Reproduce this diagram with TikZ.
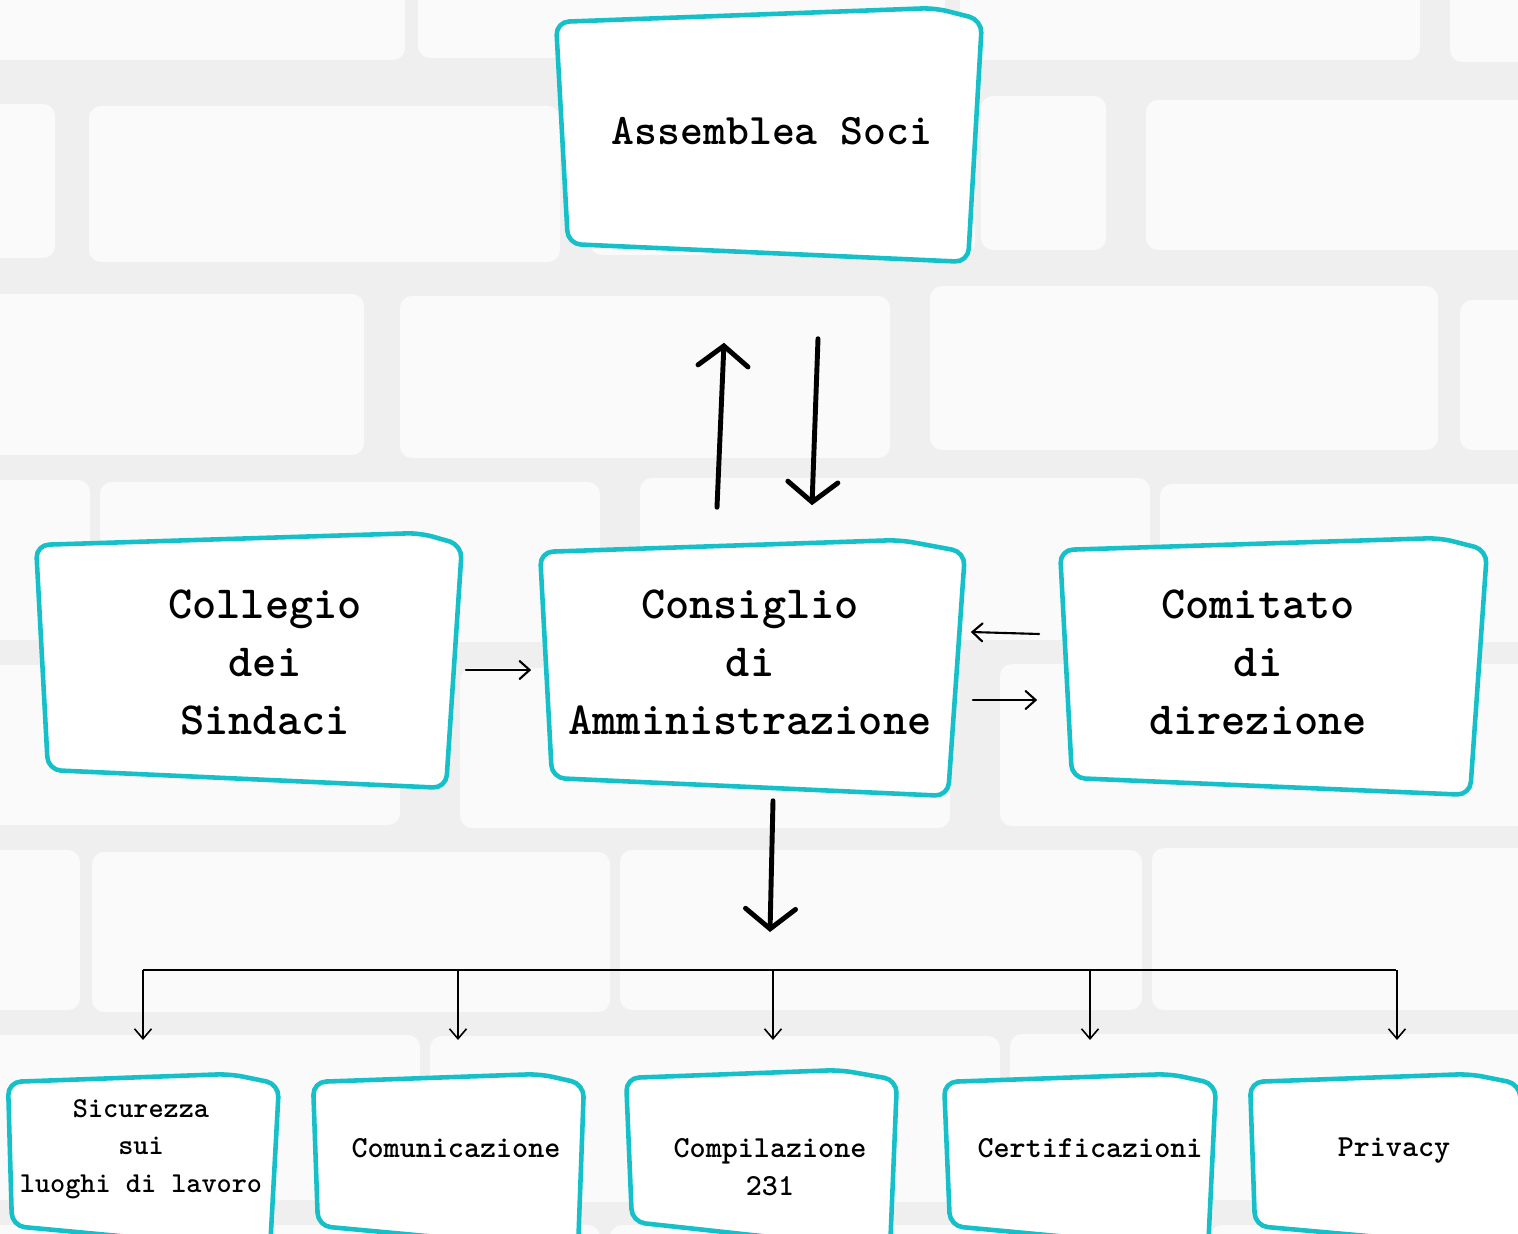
\documentclass[tikz,border=0pt]{standalone}
\usetikzlibrary{arrows.meta,calc}
\definecolor{tealline}{RGB}{22,192,200}
\definecolor{mortar}{RGB}{239,239,239}
\definecolor{brickc}{RGB}{250,250,250}
\tikzset{
  boxline/.style={draw=tealline, line width=1.3pt, fill=white, rounded corners=0.13cm, line join=round},
  bigtxt/.style={inner sep=0pt, align=center, font=\ttfamily\bfseries\fontsize{13.1}{16.5}\selectfont},
  toptxt/.style={inner sep=0pt, align=center, font=\ttfamily\bfseries\fontsize{12.4}{15}\selectfont},
  smalltxt/.style={inner sep=0pt, align=center, font=\ttfamily\bfseries\fontsize{8.7}{10.7}\selectfont},
  bigarrow/.style={line width=1.4pt, line cap=round, -{Straight Barb[length=0.2cm, width=0.5cm, line cap=round]}},
  thinarrow/.style={line width=0.6pt, line cap=round, -{Straight Barb[length=0.1cm, width=0.18cm, line cap=round]}},
  droparrow/.style={line width=0.45pt, -{Straight Barb[length=0.1cm, width=0.17cm]}},
  busline/.style={line width=0.85pt},
}
\begin{document}
\begin{tikzpicture}[x=0.01cm, y=-0.01cm]
\useasboundingbox (0,0) rectangle (1518,1234);
\clip (0,0) rectangle (1518,1234);
% background wall
\fill[mortar] (0,0) rectangle (1518,1234);
\foreach \xa/\ya/\xb/\yb in {
  -20/-20/405/60, 418/-20/945/58, 960/-20/1420/60, 1450/-20/1540/62,
  -20/104/55/258, 89/106/560/262, 590/100/975/255, 981/96/1106/250, 1146/100/1540/250,
  -20/294/364/455, 400/296/890/458, 930/286/1438/450, 1460/300/1540/450,
  -20/480/90/640, 100/482/600/642, 640/478/1150/640, 1160/484/1540/642,
  -20/665/400/825, 460/668/950/828, 1000/664/1540/826,
  -20/850/80/1010, 92/852/610/1012, 620/850/1142/1010, 1152/848/1540/1010,
  -20/1035/420/1200, 430/1036/1000/1202, 1010/1034/1540/1200,
  -20/1225/600/1400, 610/1225/1200/1400, 1210/1225/1540/1400}
  {\fill[brickc, rounded corners=0.12cm] (\xa,\ya) rectangle (\xb,\yb);}

% box outlines
\draw[boxline] (556,22) -- (935,8) -- (982,20) -- (968,262) -- (568,244) -- cycle;
\draw[boxline] (36,545) -- (420,533) -- (462,545) -- (446,788) -- (48,770) -- cycle;
\draw[boxline] (540,552) -- (900,540) -- (965,552) -- (948,796) -- (552,778) -- cycle;
\draw[boxline] (1060,550) -- (1440,538) -- (1487,550) -- (1470,795) -- (1072,778) -- cycle;
\draw[boxline] (8,1082) -- (230,1074) -- (279,1084) -- (270,1250) -- (12,1226) -- cycle;
\draw[boxline] (313,1082) -- (540,1074) -- (584,1084) -- (578,1250) -- (318,1226) -- cycle;
\draw[boxline] (626,1078) -- (840,1070) -- (897,1080) -- (890,1250) -- (632,1222) -- cycle;
\draw[boxline] (944,1082) -- (1170,1074) -- (1216,1084) -- (1208,1250) -- (950,1226) -- cycle;
\draw[boxline] (1250,1082) -- (1470,1074) -- (1520,1084) -- (1525,1250) -- (1255,1226) -- cycle;

% nodes
\node[toptxt, minimum width=4.26cm, minimum height=2.5cm] (asm) at (772,131) {Assemblea Soci};
\node[bigtxt, minimum width=4.24cm, minimum height=2.44cm] (col) at (265,662) {Collegio\\dei\\Sindaci};
\node[bigtxt, minimum width=4.26cm, minimum height=2.5cm] (cda) at (750,662) {Consiglio\\di\\Amministrazione};
\node[bigtxt, minimum width=4.28cm, minimum height=2.54cm] (com) at (1258,662) {Comitato\\di\\direzione};
\node[smalltxt, font=\ttfamily\bfseries\fontsize{8.2}{10.7}\selectfont, minimum width=2.6cm, minimum height=1.5cm] (b1) at (141,1149) {Sicurezza\\sui\\luoghi di lavoro};
\node[smalltxt, minimum width=2.6cm, minimum height=1.5cm] (b2) at (456,1148) {Comunicazione};
\node[smalltxt, minimum width=2.6cm, minimum height=1.5cm] (b3) at (770,1167) {Compilazione\\231};
\node[smalltxt, minimum width=2.6cm, minimum height=1.5cm] (b4) at (1090,1148) {Certificazioni};
\node[smalltxt, minimum width=2.6cm, minimum height=1.5cm] (b5) at (1394,1151) {Privacy};

\coordinate (hub) at (770,932);
\coordinate (bus) at (0,970);
\coordinate (dropend) at (0,1040);

% connectors
\draw[bigarrow] ($(cda.north)+(-33,-29)$) -- ($(asm.south)+(-48,86)$);
\draw[bigarrow] ($(asm.south)+(46,82)$) -- ($(cda.north)+(62,-31)$);
\draw[thinarrow] ($(col.east)+(-12,8)$) -- ($(cda.west)+(-5,8)$);
\draw[thinarrow] ($(com.west)+(-4,-28)$) -- ($(cda.east)+(7,-30)$);
\draw[thinarrow] ($(cda.east)+(9,38)$) -- ($(com.west)+(-6,38)$);
\draw[bigarrow] ($(cda.south)+(23,13)$) -- (hub);
\draw[busline] ($(b1.north |- bus)+(2,0)$) -- ($(b5.north |- bus)+(2,0)$);
\foreach \b/\dx in {b1/2, b2/2, b3/3, b4/0, b5/3}
  {\draw[droparrow] ($(\b.north |- bus)+(\dx,0)$) -- ($(\b.north |- dropend)+(\dx,0)$);}
\end{tikzpicture}
\end{document}
